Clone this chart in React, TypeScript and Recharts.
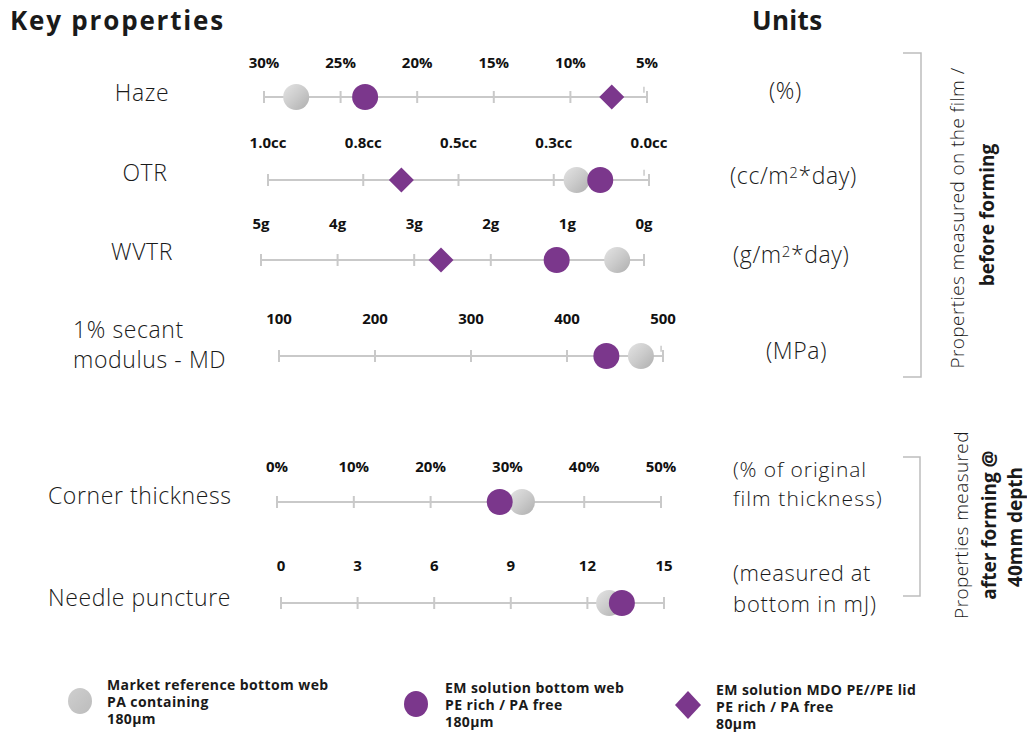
import React from 'react';
import { ScatterChart, Scatter, XAxis, YAxis, ReferenceLine } from 'recharts';

const FONT = '"Open Sans", "Noto Sans", sans-serif';
const PURPLE = '#7b378c';
const AXIS_GREY = '#c9c9c9';

// ---------- data ----------
const hazeTicks = [30, 25, 20, 15, 10, 5];
const hazeLabels = ['30%', '25%', '20%', '15%', '10%', '5%'];
const hazeMarket = [27.9];
const hazeBottom = [23.4];
const hazeLid = [7.3];

const otrTicks = [1, 0.75, 0.5, 0.25, 0];
const otrLabels = ['1.0cc', '0.8cc', '0.5cc', '0.3cc', '0.0cc'];
const otrMarket = [0.19];
const otrBottom = [0.128];
const otrLid = [0.65];

const wvtrTicks = [5, 4, 3, 2, 1, 0];
const wvtrLabels = ['5g', '4g', '3g', '2g', '1g', '0g'];
const wvtrMarket = [0.35];
const wvtrBottom = [1.14];
const wvtrLid = [2.65];

const modTicks = [100, 200, 300, 400, 500];
const modLabels = ['100', '200', '300', '400', '500'];
const modMarket = [477];
const modBottom = [441];
const modLid: number[] = [];

const cornerTicks = [0, 10, 20, 30, 40, 50];
const cornerLabels = ['0%', '10%', '20%', '30%', '40%', '50%'];
const cornerMarket = [31.9];
const cornerBottom = [29];
const cornerLid: number[] = [];

const needleTicks = [0, 3, 6, 9, 12, 15];
const needleLabels = ['0', '3', '6', '9', '12', '15'];
const needleMarket = [12.85];
const needleBottom = [13.35];
const needleLid: number[] = [];

// ---------- layout ----------
type RowCfg = {
  ticks: number[];
  labels: string[];
  domain: [number, number];
  reversed: boolean;
  market: number[];
  bottom: number[];
  lid: number[];
  extra: number[];
  firstPx: number;
  lastPx: number;
  lineY: number;
  labelOffset: number;
};

const rows: RowCfg[] = [
  { ticks: hazeTicks, labels: hazeLabels, domain: [5, 30], reversed: true, market: hazeMarket, bottom: hazeBottom, lid: hazeLid, extra: [5.2], firstPx: 264, lastPx: 647, lineY: 97, labelOffset: 29 },
  { ticks: otrTicks, labels: otrLabels, domain: [0, 1], reversed: true, market: otrMarket, bottom: otrBottom, lid: otrLid, extra: [0.013], firstPx: 268, lastPx: 649, lineY: 180, labelOffset: 32 },
  { ticks: wvtrTicks, labels: wvtrLabels, domain: [0, 5], reversed: true, market: wvtrMarket, bottom: wvtrBottom, lid: wvtrLid, extra: [], firstPx: 261, lastPx: 644, lineY: 260, labelOffset: 31 },
  { ticks: modTicks, labels: modLabels, domain: [100, 500], reversed: false, market: modMarket, bottom: modBottom, lid: modLid, extra: [498], firstPx: 279, lastPx: 663, lineY: 356, labelOffset: 32 },
  { ticks: cornerTicks, labels: cornerLabels, domain: [0, 50], reversed: false, market: cornerMarket, bottom: cornerBottom, lid: cornerLid, extra: [], firstPx: 277, lastPx: 661, lineY: 502, labelOffset: 30 },
  { ticks: needleTicks, labels: needleLabels, domain: [0, 15], reversed: false, market: needleMarket, bottom: needleBottom, lid: needleLid, extra: [], firstPx: 281, lastPx: 664, lineY: 603, labelOffset: 32 },
];

const PAD = 30;
const AX_H = 40;
const PLOT_H = 60;
const CH_H = AX_H + PLOT_H;
const LINE_LOCAL = AX_H + PLOT_H / 2;

const GreyGradient = ({ id }: { id: string }) => (
  <defs>
    <linearGradient id={id} x1="0" y1="0" x2="1" y2="1">
      <stop offset="0%" stopColor="#e4e4e4" />
      <stop offset="50%" stopColor="#cbcbcb" />
      <stop offset="100%" stopColor="#aeaeae" />
    </linearGradient>
  </defs>
);

const makeGrey = (gid: string) => (p: any) => (
  <circle cx={p.cx} cy={p.cy} r={13} fill={`url(#${gid})`} />
);
const purpleCircle = (p: any) => <circle cx={p.cx} cy={p.cy} r={13} fill={PURPLE} />;
const purpleDiamond = (p: any) => {
  const d = 12.5;
  return (
    <polygon
      points={`${p.cx},${p.cy - d} ${p.cx + d},${p.cy} ${p.cx},${p.cy + d} ${p.cx - d},${p.cy}`}
      fill={PURPLE}
    />
  );
};
const nothing = () => <g />;

function Row({ cfg, idx }: { cfg: RowCfg; idx: number }) {
  const width = cfg.lastPx - cfg.firstPx + 2 * PAD;
  const left = cfg.firstPx - PAD;
  const top = cfg.lineY - LINE_LOCAL;
  const margin = { top: 0, right: PAD, bottom: 0, left: PAD };
  const toPts = (arr: number[]) => arr.map((v) => ({ x: v, y: 0 }));
  const tickRenderer = (p: any) => {
    const i = cfg.ticks.indexOf(p.payload.value);
    return (
      <text
        x={p.x}
        y={LINE_LOCAL - cfg.labelOffset}
        textAnchor="middle"
        fontFamily={FONT}
        fontWeight={700}
        fontSize={15}
        fill="#111"
      >
        {i >= 0 ? cfg.labels[i] : ''}
      </text>
    );
  };
  const gid = `greyGrad${idx}`;
  const boxStyle: React.CSSProperties = { position: 'absolute', left, top, width, height: CH_H };
  return (
    <>
      <div style={boxStyle}>
        <ScatterChart width={width} height={CH_H} margin={margin}>
          <XAxis
            xAxisId="x"
            type="number"
            dataKey="x"
            domain={cfg.domain}
            reversed={cfg.reversed}
            ticks={cfg.ticks}
            interval={0}
            orientation="top"
            height={AX_H}
            axisLine={false}
            tickLine={false}
            tick={tickRenderer}
            allowDataOverflow
          />
          <YAxis yAxisId="y" type="number" dataKey="y" domain={[-1, 1]} hide allowDataOverflow />
          <ReferenceLine xAxisId="x" yAxisId="y" y={0} stroke={AXIS_GREY} strokeWidth={2} ifOverflow="visible" />
          {cfg.ticks.map((t) => (
            <ReferenceLine
              key={`t${t}`}
              xAxisId="x"
              yAxisId="y"
              segment={[{ x: t, y: -0.2 }, { x: t, y: 0.2 }]}
              stroke={AXIS_GREY}
              strokeWidth={2}
              ifOverflow="visible"
            />
          ))}
          {cfg.extra.map((t) => (
            <ReferenceLine
              key={`e${t}`}
              xAxisId="x"
              yAxisId="y"
              segment={[{ x: t, y: 0.14 }, { x: t, y: 0.34 }]}
              stroke={AXIS_GREY}
              strokeWidth={1.5}
              ifOverflow="visible"
            />
          ))}
          <Scatter xAxisId="x" yAxisId="y" data={toPts(cfg.ticks)} shape={nothing} isAnimationActive={false} />
        </ScatterChart>
      </div>
      <div style={boxStyle}>
        <ScatterChart width={width} height={CH_H} margin={margin}>
          <GreyGradient id={gid} />
          <XAxis
            xAxisId="x"
            type="number"
            dataKey="x"
            domain={cfg.domain}
            reversed={cfg.reversed}
            ticks={cfg.ticks}
            orientation="top"
            height={AX_H}
            axisLine={false}
            tickLine={false}
            tick={false}
            allowDataOverflow
          />
          <YAxis yAxisId="y" type="number" dataKey="y" domain={[-1, 1]} hide allowDataOverflow />
          <Scatter xAxisId="x" yAxisId="y" data={toPts(cfg.market)} shape={makeGrey(gid)} isAnimationActive={false} />
          <Scatter xAxisId="x" yAxisId="y" data={toPts(cfg.bottom)} shape={purpleCircle} isAnimationActive={false} />
          <Scatter xAxisId="x" yAxisId="y" data={toPts(cfg.lid)} shape={purpleDiamond} isAnimationActive={false} />
        </ScatterChart>
      </div>
    </>
  );
}

const T = (props: {
  left: number;
  top: number;
  size?: number;
  weight?: number;
  lh?: number;
  ls?: number;
  width?: number;
  align?: 'left' | 'center';
  children: React.ReactNode;
}) => {
  const size = props.size ?? 23;
  const lh = props.lh ?? size * 1.35;
  return (
    <div
      style={{
        position: 'absolute',
        left: props.left,
        top: props.top,
        width: props.width,
        textAlign: props.align ?? 'left',
        fontFamily: FONT,
        fontSize: size,
        fontWeight: props.weight ?? 300,
        letterSpacing: props.ls ?? 0.6,
        lineHeight: `${lh}px`,
        color: '#1a1a1a',
        whiteSpace: 'nowrap',
      }}
    >
      {props.children}
    </div>
  );
};

export default function App() {
  return (
    <div
      style={{
        position: 'absolute',
        left: 0,
        top: 0,
        width: 1027,
        height: 737,
        background: '#fff',
        overflow: 'hidden',
      }}
    >
      {/* headers */}
      <T left={10} top={20 - 18} size={26} weight={700} lh={36} ls={1.8}>Key properties</T>
      <T left={752} top={20 - 18} size={26} weight={700} lh={36} ls={0.3}>Units</T>

      {/* row labels */}
      <T left={42} top={92 - 15} width={200} align="center" lh={30}>Haze</T>
      <T left={45} top={172 - 15} width={200} align="center" lh={30}>OTR</T>
      <T left={42} top={251 - 15} width={200} align="center" lh={30}>WVTR</T>
      <T left={73} top={315} lh={28}>1% secant</T>
      <T left={73} top={345} lh={28}>modulus - MD</T>
      <T left={48} top={495 - 15} lh={30}>Corner thickness</T>
      <T left={48} top={597 - 15} lh={30}>Needle puncture</T>

      {/* units */}
      <T left={769} top={90 - 15} lh={30}>(%)</T>
      <T left={730} top={172 - 15} lh={30}>
        (cc/m<span style={{ fontSize: 15, verticalAlign: 6 }}>2</span>*day)
      </T>
      <T left={733} top={251 - 15} lh={30}>
        (g/m<span style={{ fontSize: 15, verticalAlign: 6 }}>2</span>*day)
      </T>
      <T left={766} top={350 - 15} lh={30}>(MPa)</T>
      <T left={733} top={456} size={21} lh={26} ls={0.9}>(% of original</T>
      <T left={733} top={485} size={21} lh={26} ls={1.1}>film thickness)</T>
      <T left={733} top={559} size={22} lh={27}>(measured at</T>
      <T left={733} top={590} size={22} lh={27} ls={0.8}>bottom in mJ)</T>

      {rows.map((r, i) => (
        <Row key={i} cfg={r} idx={i} />
      ))}

      {/* brackets and vertical texts */}
      <svg
        width={1027}
        height={737}
        style={{ position: 'absolute', left: 0, top: 0, pointerEvents: 'none' }}
      >
        <path d="M903,53 L921,53 L921,377 L903,377" fill="none" stroke="#bdbdbd" strokeWidth={1.5} />
        <path d="M903,457 L920,457 L920,596 L903,596" fill="none" stroke="#bdbdbd" strokeWidth={1.5} />
        <g fontFamily={FONT} fontSize={19} fill="#1a1a1a">
          <text transform="translate(957,218) rotate(-90)" textAnchor="middle" dominantBaseline="central" fontWeight={300} letterSpacing={0.4}>
            Properties measured on the film /
          </text>
          <text transform="translate(987,215) rotate(-90)" textAnchor="middle" dominantBaseline="central" fontWeight={700}>
            before forming
          </text>
          <text transform="translate(961,525) rotate(-90)" textAnchor="middle" dominantBaseline="central" fontWeight={300} letterSpacing={0.4}>
            Properties measured
          </text>
          <text transform="translate(989,525) rotate(-90)" textAnchor="middle" dominantBaseline="central" fontWeight={700}>
            after forming @
          </text>
          <text transform="translate(1015,527) rotate(-90)" textAnchor="middle" dominantBaseline="central" fontWeight={700}>
            40mm depth
          </text>
        </g>
        {/* legend markers */}
        <defs>
          <linearGradient id="legGrey" x1="0" y1="0" x2="1" y2="1">
            <stop offset="0%" stopColor="#cfcfcf" />
            <stop offset="100%" stopColor="#bcbcbc" />
          </linearGradient>
        </defs>
        <ellipse cx={80} cy={701} rx={12} ry={13} fill="url(#legGrey)" />
        <ellipse cx={416} cy={704} rx={12} ry={13} fill={PURPLE} />
        <polygon points="688,691 701,705 688,719 675,705" fill={PURPLE} />
      </svg>

      {/* legend texts */}
      <T left={107} top={676} size={14} weight={700} lh={17} ls={0.4}>
        Market reference bottom web
        <br />
        PA containing
        <br />
        180µm
      </T>
      <T left={445} top={679} size={14} weight={700} lh={17} ls={0.4}>
        EM solution bottom web
        <br />
        PE rich / PA free
        <br />
        180µm
      </T>
      <T left={716} top={681} size={14} weight={700} lh={17} ls={0.4}>
        EM solution MDO PE//PE lid
        <br />
        PE rich / PA free
        <br />
        80µm
      </T>
    </div>
  );
}
